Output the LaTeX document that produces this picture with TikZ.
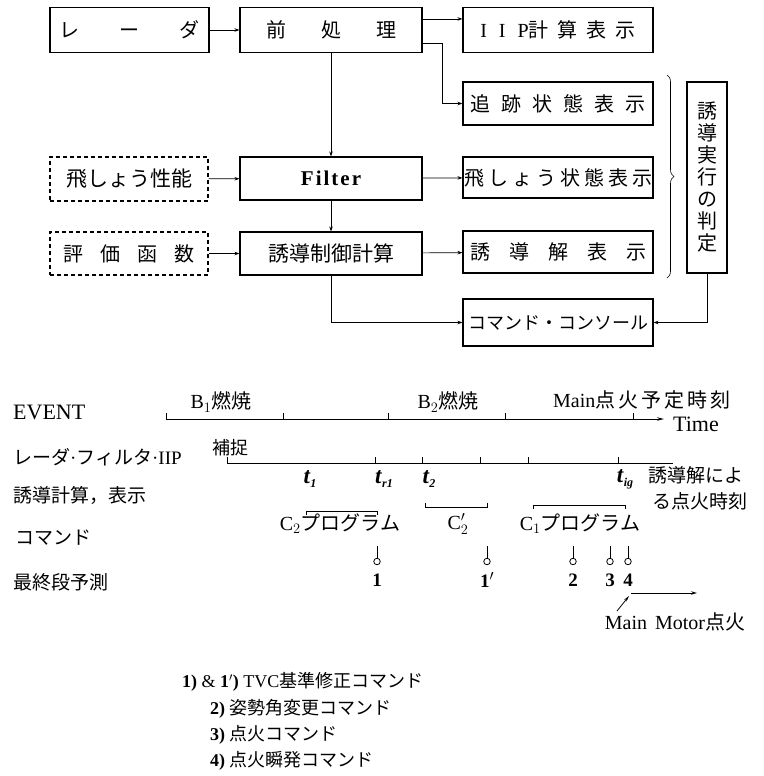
\documentclass[tikz,border=0pt]{standalone}
\usepackage{fontspec}
\setmainfont{Liberation Serif}
\newfontfamily\jp{Noto Sans CJK JP}
\usetikzlibrary{arrows.meta,decorations.pathreplacing}
\newcommand\gp[1]{\hspace{#1pt}}
\newcommand\tsub[2]{\textit{#1}\raisebox{-4pt}{\fontsize{12}{13}\selectfont\textit{#2}}}
\begin{document}
\begin{tikzpicture}[x=1pt,y=-1pt,
  blk/.style={draw,line width=1.1pt,inner sep=0pt,font=\jp\fontsize{20}{22}\selectfont},
  dblk/.style={blk,dash pattern=on 4pt off 3pt},
  arr/.style={line width=0.7pt,-{Stealth[length=5pt,width=3.5pt]}},
  ln/.style={line width=0.8pt},
  lbl/.style={anchor=west,inner sep=0pt,font=\jp\fontsize{19}{22}\selectfont},
  tl/.style={inner sep=0pt,font=\fontsize{20}{22}\selectfont},
  tlab/.style={inner sep=0pt,font=\bfseries\fontsize{23}{24}\selectfont},
  num/.style={inner sep=0pt,font=\bfseries\fontsize{19}{20}\selectfont},
  knob/.style={circle,draw,line width=0.8pt,inner sep=0pt,minimum size=6.5pt},
  leg/.style={anchor=west,inner sep=0pt,font=\fontsize{18}{20}\selectfont}]
\fill[white] (0,0) rectangle (763,776);
\useasboundingbox (0,0) rectangle (763,776);

% ---- block diagram ----
\node[blk,minimum width=159pt,minimum height=45pt] (radar) at (129.5,30) {レ\gp{40}ー\gp{40}ダ};
\node[blk,minimum width=182pt,minimum height=45pt] (pre) at (331,30) {前\gp{35}処\gp{35}理};
\node[blk,minimum width=190pt,minimum height=45pt] (iip) at (558,30) {{\rmfamily I\gp{12}I\gp{12}P}計\gp{9}算\gp{9}表\gp{9}示};
\node[blk,minimum width=190pt,minimum height=43pt] (track) at (558,103.5) {追\gp{11}跡\gp{11}状\gp{11}態\gp{11}表\gp{11}示};
\node[dblk,minimum width=158pt,minimum height=44pt,font=\jp\fontsize{21}{22}\selectfont] (perf) at (129,179) {飛しょう性能};
\node[blk,minimum width=182pt,minimum height=43pt,font=\bfseries\fontsize{21}{22}\selectfont] (filter) at (331,178.5) {F\gp{2}i\gp{2}l\gp{2}t\gp{2}e\gp{2}r};
\node[blk,minimum width=190pt,minimum height=41pt] (flight) at (558,177.5) {飛\gp{4}し\gp{4}ょ\gp{4}う\gp{4}状\gp{4}態\gp{4}表\gp{4}示};
\node[dblk,minimum width=158pt,minimum height=43pt] (eval) at (129,253.5) {評\gp{17}価\gp{17}函\gp{17}数};
\node[blk,minimum width=182pt,minimum height=43pt,font=\jp\fontsize{21}{22}\selectfont] (guid) at (331,253.5) {誘導制御計算};
\node[blk,minimum width=190pt,minimum height=42pt] (sol) at (558,252) {誘\gp{19}導\gp{19}解\gp{19}表\gp{19}示};
\node[blk,minimum width=190pt,minimum height=47pt,font=\jp\fontsize{18}{22}\selectfont] (console) at (558,322.5) {コマンド・コンソール};
\node[blk,minimum width=40pt,minimum height=191pt,align=center,font=\jp\fontsize{20}{22}\selectfont] (judge) at (707,177.5) {誘\\導\\実\\行\\の\\判\\定};

\draw[arr] (radar) -- (pre);
\draw[arr] ([yshift=-12pt]pre.north east) -- ([yshift=-12pt]pre.north east -| iip.west);
\draw[arr] ([yshift=10pt]pre.south east) -- ++(20,0) |- (track.west);
\draw[arr] (pre) -- (filter);
\draw[arr] (perf) -- (filter);
\draw[arr] (filter) -- (flight);
\draw[arr] (filter) -- (guid);
\draw[arr] (eval) -- (guid);
\draw[arr] (guid) -- (sol);
\draw[arr] (guid.south) |- (console.west);
\draw[arr] (judge.south) |- (console.east);
\draw[line width=0.6pt,decorate,decoration={brace,amplitude=7pt}] (667,75) -- (667,278);

% ---- time chart ----
\node[lbl,font=\fontsize{22}{24}\selectfont] (lev) at (13,412) {EVENT};
\node[lbl] (lrad) at (13,457) {レーダ{\rmfamily·}フィルタ{\rmfamily·IIP}};
\node[lbl] (lgc) at (13,495) {誘導計算，表示};
\node[lbl] (lcmd) at (15,538) {コマンド};
\node[lbl] (lfin) at (13,582) {最終段予測};

\coordinate (ev0) at (166,419);
\coordinate (ev1) at (664,419);
\draw[ln,-{Stealth[length=7pt,width=3.5pt,open]}] (ev0) -- (ev1);
\foreach \x in {166,283,388,505,633} \draw[ln] (\x,419) -- (\x,413);
\node[tl] (b1) at (221,402) {B$_1${\jp 燃焼}};
\node[tl] (b2) at (448,402) {B$_2${\jp 燃焼}};
\node[tl,anchor=west] (mig) at (553,400) {Main{\jp 点\gp{3}火\gp{3}予\gp{3}定\gp{3}時\gp{3}刻}};
\node[tl,anchor=west,font=\fontsize{22}{24}\selectfont] (time) at (673,424) {Time};

\coordinate (rd0) at (227,463);
\coordinate (rd1) at (673,463);
\draw[ln] (rd0) -- (rd1);
\foreach \x in {227,375,422,480,528,618} \draw[ln] (\x,463) -- (\x,457);
\node[lbl,font=\jp\fontsize{18}{20}\selectfont] (cap) at (212,448) {補捉};
\node[tlab] (t1) at (310,479) {\tsub{t}{1}};
\node[tlab] (tr1) at (384,479) {\tsub{t}{r1}};
\node[tlab] (t2) at (429,479) {\tsub{t}{2}};
\node[tlab] (tig) at (625,479) {\tsub{t}{ig}};
\node[lbl] (ig1) at (648,475) {誘導解によ};
\node[lbl] (ig2) at (652,501) {る点火時刻};

\draw[ln] (306,515) -- (306,511) -- (377,511) -- (377,515);
\draw[ln] (425,503) -- (425,507) -- (487,507) -- (487,503);
\draw[ln] (533,509) -- (533,505) -- (625,505) -- (625,509);
\node[tl] (c2) at (340,524) {C$_2${\jp プログラム}};
\node[tl] (c2p) at (458,524) {C$_2'$};
\node[tl] (c1) at (580,524) {C$_1${\jp プログラム}};

\foreach \x/\n/\t in {377/k1/1,487/k1p/{1$'$},573/k2/2,610/k3/3,628/k4/4}{
  \node[knob] (\n) at (\x,561.5) {};
  \draw[ln] (\n.north) -- ++(0,-12);
  \node[num] at (\x,580) {\t};
}

\coordinate (mm0) at (617,611);
\coordinate (mm1) at (629,596);
\draw[ln,-{Stealth[length=6pt,width=3pt]}] (mm0) -- (mm1);
\coordinate (mh0) at (631,593);
\coordinate (mh1) at (697,593);
\draw[ln,-{Stealth[length=6pt,width=3.5pt,open]}] (mh0) -- (mh1);
\node[tl] (mm) at (675,622) {Main\gp{8}Motor{\jp 点火}};

% ---- legend ----
\node[leg] (g1) at (182,682) {\textbf{1)}\ \&\ \textbf{1$'$)} TVC{\jp 基準修正コマンド}};
\node[leg] (g2) at (210,709) {\textbf{2)} {\jp 姿勢角変更コマンド}};
\node[leg] (g3) at (210,735) {\textbf{3)} {\jp 点火コマンド}};
\node[leg] (g4) at (210,761) {\textbf{4)} {\jp 点火瞬発コマンド}};
\end{tikzpicture}
\end{document}
